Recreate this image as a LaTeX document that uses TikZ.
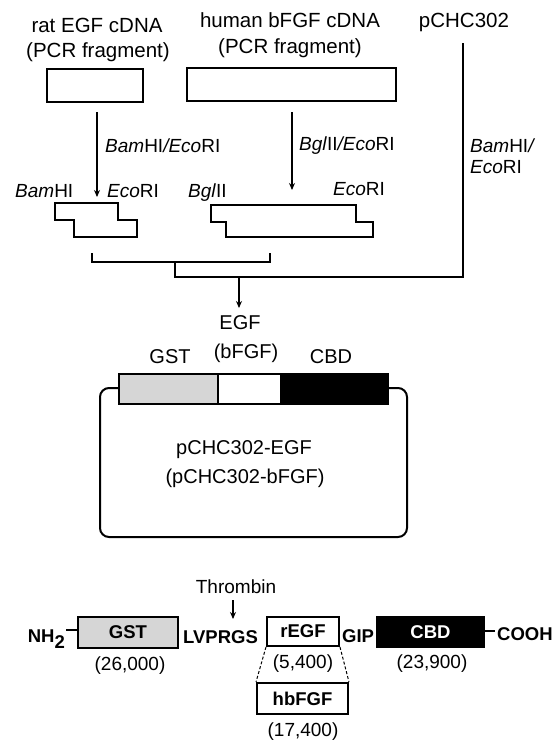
\documentclass[tikz,border=0pt]{standalone}
\usepackage{fontspec}
\setmainfont{Liberation Sans}
\usetikzlibrary{arrows.meta}
\begin{document}
\begin{tikzpicture}[x=1pt,y=-1pt,
  lbl/.style={font=\fontsize{20.5}{23}\selectfont, inner sep=0pt, anchor=base},
  enz/.style={font=\fontsize{19}{21}\selectfont, inner sep=0pt, anchor=base},
  mid/.style={font=\fontsize{20}{22}\selectfont, inner sep=0pt, anchor=base},
  bld/.style={font=\fontsize{18.5}{21}\selectfont\bfseries, inner sep=0pt},
  num/.style={font=\fontsize{19}{21}\selectfont, inner sep=0pt, anchor=base},
  bx/.style={draw, line width=2pt, inner sep=0pt},
  ln/.style={line width=2pt},
  arr/.style={line width=1.4pt, -{Stealth[length=7pt,width=6pt]}},
  stip/.style={fill=black!16},
]
\useasboundingbox (0,0) rectangle (555,740);

% top labels
\node[lbl] (ratA) at (97,32) {rat EGF cDNA};
\node[lbl] (ratB) at (98,57) {(PCR fragment)};
\node[lbl] (humA) at (290,27) {human bFGF cDNA};
\node[lbl] (humB) at (290,53) {(PCR fragment)};
\node[lbl] (pchc) at (464,27) {pCHC302};

% PCR fragment boxes
\node[bx, minimum width=96pt, minimum height=33pt] (ratbox) at (95,85.5) {};
\node[bx, minimum width=209pt, minimum height=33pt] (humbox) at (291.5,84.5) {};

% digestion arrows
\coordinate (a1s) at (97,112);
\coordinate (a1e) at (97,197);
\coordinate (a2s) at (292,112);
\coordinate (a2e) at (292,190);
\draw[arr] (a1s) -- (a1e);
\draw[arr] (a2s) -- (a2e);
\node[enz, anchor=base west] (enz1) at (105,152) {\textit{Bam}HI\textit{/Eco}RI};
\node[enz, anchor=base west] (enz2) at (299,150) {\textit{Bgl}II\textit{/Eco}RI};
\node[enz, anchor=base west] (enz3a) at (470,152) {\textit{Bam}HI\textit{/}};
\node[enz, anchor=base west] (enz3b) at (470,173) {\textit{Eco}RI};

% site labels
\node[enz, anchor=base west] (s1) at (15,197) {\textit{Bam}HI};
\node[enz, anchor=base west] (s2) at (107,197) {\textit{Eco}RI};
\node[enz, anchor=base west] (s3) at (188,197) {\textit{Bgl}II};
\node[enz, anchor=base west] (s4) at (333,195) {\textit{Eco}RI};

% digested fragments (sticky ends)
\draw[ln] (55,203) -- (118,203) -- (118,220) -- (137,220) -- (137,237) -- (74,237) -- (74,220) -- (55,220) -- cycle;
\draw[ln] (211,205) -- (356,205) -- (356,222) -- (373,222) -- (373,237) -- (226,237) -- (226,222) -- (211,222) -- cycle;

% ligation connectors
\coordinate (b1) at (92,253);
\coordinate (b2) at (270,253);
\coordinate (bm) at (175,262);
\coordinate (j) at (175,277);
\coordinate (vtop) at (463,43);
\coordinate (m1) at (239,277);
\coordinate (m2) at (239,308);
\draw[ln] (b1) -- (b1 |- bm) -- (b2 |- bm) -- (b2);
\draw[ln] (bm) -- (j) -- (j -| vtop) -- (vtop);
\draw[arr] (m1) -- (m2);

% middle labels
\node[mid] (egf) at (240,329) {EGF};
\node[mid] (bfgf) at (246,358) {(bFGF)};
\node[mid] (gstl) at (170,363) {GST};
\node[mid] (cbdl) at (331,363) {CBD};

% plasmid
\node[draw, line width=2pt, rounded corners=9pt, minimum width=307pt, minimum height=149pt, inner sep=0pt] (plasmid) at (253.5,462.5) {};
\node[bx, stip, minimum width=99pt, minimum height=30pt] (pg) at (168.5,389) {};
\node[bx, fill=white, minimum width=63pt, minimum height=30pt] (pe) at (249.5,389) {};
\node[bx, fill=black, minimum width=107pt, minimum height=30pt] (pc) at (334.5,389) {};
\node[mid] (pl1) at (244,454) {pCHC302-EGF};
\node[mid] (pl2) at (245,483) {(pCHC302-bFGF)};

% fusion protein
\node[num] (thr) at (236,593) {Thrombin};
\coordinate (t1) at (233,600);
\coordinate (t2) at (233,619);
\draw[arr] (t1) -- (t2);

\node[bld, anchor=base east] (nh) at (65,642) {NH\raisebox{-6pt}{2}};
\node[bx, stip, bld, minimum width=100pt, minimum height=31pt] (gst) at (128,632.5) {GST};
\draw[ln] ([yshift=2.5pt]gst.west) -- ++(-11,0);
\node[bld, anchor=base west] (lv) at (183,643) {LVPRGS};
\node[bx, bld, minimum width=72pt, minimum height=29pt] (regf) at (303,631.5) {rEGF};
\node[bld, anchor=base west] (gip) at (342,642) {GIP};
\node[bx, bld, fill=black, text=white, minimum width=107pt, minimum height=30pt] (cbd) at (430.5,632) {CBD};
\coordinate (cooh0) at (495,631);
\draw[ln] (cbd.east |- cooh0) -- (cooh0);
\node[bld, anchor=base west] (cooh) at (497,640) {COOH};
\node[bx, bld, minimum width=91pt, minimum height=31pt] (hb) at (302.5,698.5) {hbFGF};
\draw[line width=1pt, dash pattern=on 3pt off 2pt] (regf.south west) -- (hb.north west);
\draw[line width=1pt, dash pattern=on 3pt off 2pt] (regf.south east) -- (hb.north east);

\node[num] (n1) at (130,670) {(26,000)};
\node[num] (n2) at (303,668) {(5,400)};
\node[num] (n3) at (432,668) {(23,900)};
\node[num] (n4) at (303,736) {(17,400)};
\end{tikzpicture}
\end{document}
